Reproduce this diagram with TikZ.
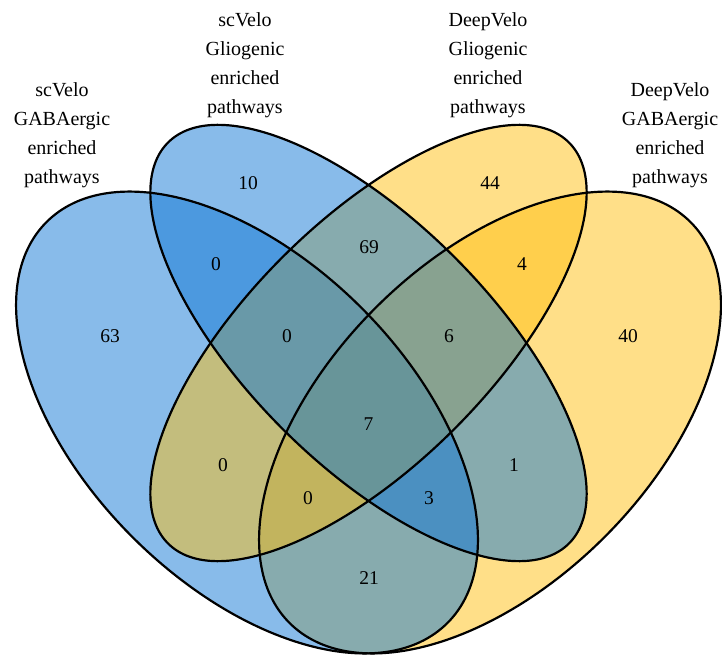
\documentclass[tikz,border=0pt]{standalone}
\usepackage{fontspec}
\setmainfont{Liberation Serif}
\definecolor{vblue}{RGB}{17,119,213}
\definecolor{vyellow}{RGB}{255,191,17}
\begin{document}
\begin{tikzpicture}[x=1pt,y=1pt,
  num/.style={inner sep=0pt,font=\fontsize{19.5}{23}\selectfont},
  cat/.style={inner sep=0pt,align=center,font=\fontsize{20}{29}\selectfont},
  vfill/.style={fill=#1,fill opacity=0.5},
  vline/.style={draw=black,line width=2.2pt}]
\useasboundingbox (0,0) rectangle (722,654);
% centres
\coordinate (cA) at (247,231.5);
\coordinate (cB) at (368.5,311);
\coordinate (cC) at (368.5,311);
\coordinate (cD) at (490,231.5);
% fills (order D, A, C, B)
\path[vfill=vyellow] (cD) circle[x radius=283.5pt, y radius=162pt, rotate=45];
\path[vfill=vblue]   (cA) circle[x radius=283.5pt, y radius=162pt, rotate=-45];
\path[vfill=vyellow] (cC) circle[x radius=283.5pt, y radius=121.5pt, rotate=45];
\path[vfill=vblue]   (cB) circle[x radius=283.5pt, y radius=121.5pt, rotate=-45];
% outlines
\path[vline] (cD) circle[x radius=283.5pt, y radius=162pt, rotate=45];
\path[vline] (cA) circle[x radius=283.5pt, y radius=162pt, rotate=-45];
\path[vline] (cC) circle[x radius=283.5pt, y radius=121.5pt, rotate=45];
\path[vline] (cB) circle[x radius=283.5pt, y radius=121.5pt, rotate=-45];
% category labels
\node[cat] (lA) at (62,518.5) {scVelo\\GABAergic\\enriched\\pathways};
\node[cat] (lB) at (245,589) {scVelo\\Gliogenic\\enriched\\pathways};
\node[cat] (lC) at (488,589) {DeepVelo\\Gliogenic\\enriched\\pathways};
\node[cat] (lD) at (670,518.5) {DeepVelo\\GABAergic\\enriched\\pathways};
% counts
\node[num] (n1000) at (110,318) {63};
\node[num] (n0100) at (248,471) {10};
\node[num] (n0010) at (490,471) {44};
\node[num] (n0001) at (628,318) {40};
\node[num] (n1100) at (216,390) {0};
\node[num] (n0011) at (522,390) {4};
\node[num] (n0110) at (369,407) {69};
\node[num] (n1110) at (287,318) {0};
\node[num] (n0111) at (449,318) {6};
\node[num] (n1111) at (368.5,230) {7};
\node[num] (n1010) at (223,189) {0};
\node[num] (n0101) at (514,189) {1};
\node[num] (n1011) at (308,156) {0};
\node[num] (n1101) at (429,156) {3};
\node[num] (n1001) at (369,76) {21};
\end{tikzpicture}
\end{document}
